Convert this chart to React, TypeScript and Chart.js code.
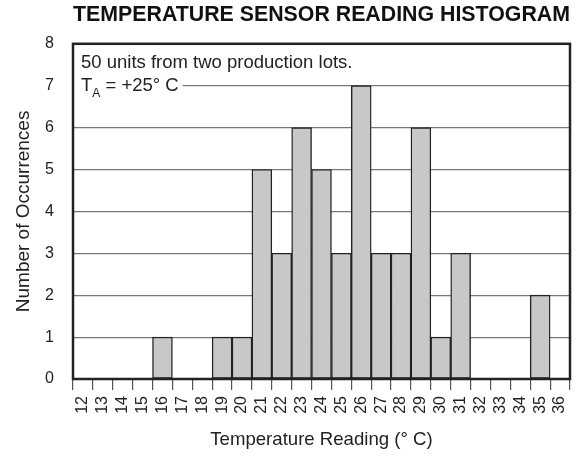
import React, { useEffect, useRef } from "react";
import { Chart, registerables } from "chart.js";

Chart.register(...registerables);

const categories = ["12", "13", "14", "15", "16", "17", "18", "19", "20", "21", "22", "23", "24", "25", "26", "27", "28", "29", "30", "31", "32", "33", "34", "35", "36"];
const occurrences = [0, 0, 0, 0, 1, 0, 0, 1, 1, 5, 3, 6, 5, 3, 7, 3, 3, 6, 1, 3, 0, 0, 0, 2, 0];
const chartTitle = "TEMPERATURE SENSOR READING HISTOGRAM";
const xTitle = "Temperature Reading (\u00B0 C)";
const yTitle = "Number of Occurrences";
const noteLine1 = "50 units from two production lots.";
const noteLine2Main = "T";
const noteLine2Sub = "A";
const noteLine2Rest = " = +25\u00B0 C";

const FONT = "'Liberation Sans', Arial, Helvetica, sans-serif";
const NOTE_SIZE = 18.5;

const framePlugin = {
  id: "frameAndNote",
  beforeDatasetsDraw(chart: any) {
    const { ctx, chartArea } = chart;
    ctx.save();
    ctx.font = `${NOTE_SIZE}px ${FONT}`;
    const wT = ctx.measureText(noteLine2Main).width;
    ctx.font = `12px ${FONT}`;
    const wA = ctx.measureText(noteLine2Sub).width;
    ctx.font = `${NOTE_SIZE}px ${FONT}`;
    const wR = ctx.measureText(noteLine2Rest).width;
    const x0 = chartArea.left + 8;
    ctx.fillStyle = "#ffffff";
    ctx.fillRect(chartArea.left + 1, 76, x0 - chartArea.left - 1 + wT + wA + wR + 4, 20);
    ctx.fillStyle = "#222222";
    ctx.textBaseline = "alphabetic";
    ctx.textAlign = "left";
    ctx.fillText(noteLine1, x0, 68);
    ctx.fillText(noteLine2Main, x0, 91);
    ctx.font = `12px ${FONT}`;
    ctx.fillText(noteLine2Sub, x0 + wT, 97);
    ctx.font = `${NOTE_SIZE}px ${FONT}`;
    ctx.fillText(noteLine2Rest, x0 + wT + wA, 91);
    ctx.restore();
  },
  afterDatasetsDraw(chart: any) {
    const { ctx, chartArea } = chart;
    ctx.save();
    ctx.strokeStyle = "#222222";
    ctx.lineWidth = 2.5;
    ctx.strokeRect(chartArea.left, chartArea.top, chartArea.right - chartArea.left, chartArea.bottom - chartArea.top);
    ctx.restore();
  },
};

export default function App() {
  const canvasRef = useRef<HTMLCanvasElement | null>(null);

  useEffect(() => {
    if (!canvasRef.current) return;
    const chart = new Chart(canvasRef.current, {
      type: "bar",
      data: {
        labels: categories,
        datasets: [
          {
            data: occurrences,
            backgroundColor: "#c7c8ca",
            borderColor: "#222222",
            borderWidth: 1.4,
            borderSkipped: false,
            barPercentage: 1,
            categoryPercentage: 1,
          },
        ],
      },
      options: {
        responsive: false,
        animation: false,
        layout: { padding: { left: 0, right: 7, top: 0, bottom: 0 } },
        plugins: {
          legend: { display: false },
          tooltip: { enabled: false },
          title: {
            display: true,
            text: chartTitle,
            fullSize: false,
            color: "#111111",
            font: { family: FONT, size: 21.5, weight: "bold" },
            padding: { top: 2, bottom: 16 },
          },
        },
        scales: {
          x: {
            offset: true,
            border: { display: false },
            grid: {
              offset: true,
              drawOnChartArea: false,
              drawTicks: true,
              tickLength: 11,
              color: "#555555",
              lineWidth: 1.2,
            },
            ticks: {
              autoSkip: false,
              minRotation: 90,
              maxRotation: 90,
              padding: 6,
              color: "#222222",
              font: { family: FONT, size: 16 },
            },
            title: {
              display: true,
              text: xTitle,
              color: "#222222",
              font: { family: FONT, size: 18.6 },
              padding: { top: 0, bottom: 5 },
            },
            afterFit: (scale: any) => {
              scale.height = 77;
              scale.paddingLeft = 0;
              scale.paddingRight = 0;
            },
          },
          y: {
            min: 0,
            max: 8,
            border: { display: false },
            grid: {
              drawTicks: false,
              color: "#777777",
              lineWidth: 1.2,
            },
            ticks: {
              stepSize: 1,
              padding: 19,
              color: "#222222",
              font: { family: FONT, size: 16 },
            },
            title: {
              display: true,
              text: yTitle,
              color: "#222222",
              font: { family: FONT, size: 19 },
              padding: { top: 12, bottom: 0 },
            },
            afterFit: (scale: any) => {
              scale.width = 73;
            },
          },
        },
      },
      plugins: [framePlugin],
    });
    return () => chart.destroy();
  }, []);

  return (
    <div style={{ position: "absolute", left: 0, top: 0, width: 577, height: 456, background: "#ffffff" }}>
      <canvas ref={canvasRef} width={577} height={456} style={{ display: "block" }} />
    </div>
  );
}
